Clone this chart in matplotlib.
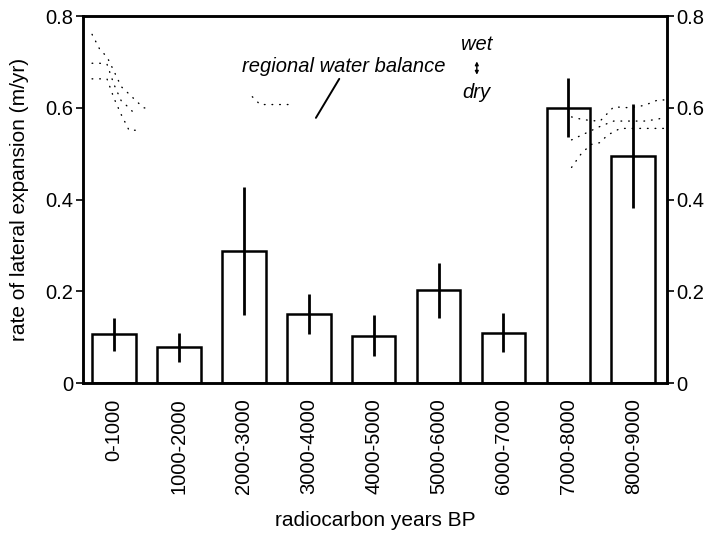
import numpy as np
import matplotlib
matplotlib.use("Agg")
import matplotlib.pyplot as plt

plt.rcParams['font.family'] = ['Liberation Sans', 'DejaVu Sans']

# ---- data ----
categories = ["0-1000", "1000-2000", "2000-3000", "3000-4000", "4000-5000",
              "5000-6000", "6000-7000", "7000-8000", "8000-9000"]
bar_centers_ky = [0.5, 1.5, 2.5, 3.5, 4.5, 5.5, 6.5, 7.5, 8.5]
rates = [0.106, 0.078, 0.288, 0.150, 0.103, 0.202, 0.110, 0.600, 0.495]
rate_err = [0.036, 0.032, 0.140, 0.043, 0.045, 0.060, 0.042, 0.064, 0.113]
y_ticks = [0, 0.2, 0.4, 0.6, 0.8]
y_tick_labels = ["0", "0.2", "0.4", "0.6", "0.8"]

# regional water balance (stippled band, visible fragments) in ky BP
wb_upper_x = [0.16, 0.28, 0.39, 0.50, 0.61, 0.73, 0.84, 0.95, 1.07, np.nan,
              2.63, 2.75, 2.90, 3.05, 3.18, np.nan,
              7.55, 7.7, 7.85, 7.99, 8.2, 8.44, 8.67, 8.88, 8.99]
wb_upper_y = [0.760, 0.727, 0.711, 0.679, 0.646, 0.630, 0.615, 0.600, 0.598, np.nan,
              0.624, 0.607, 0.607, 0.607, 0.607, np.nan,
              0.580, 0.575, 0.572, 0.571, 0.602, 0.600, 0.605, 0.617, 0.617]
wb_lower_x = [0.16, 0.28, 0.39, 0.50, 0.61, 0.73, 0.84, np.nan,
              7.55, 7.7, 7.85, 7.99, 8.1, 8.3, 8.44, 8.67, 8.88, 8.99]
wb_lower_y = [0.663, 0.663, 0.663, 0.620, 0.585, 0.551, 0.551, np.nan,
              0.470, 0.500, 0.520, 0.524, 0.540, 0.555, 0.555, 0.555, 0.555, 0.555]
wb_mid_x = [0.16, 0.28, 0.39, 0.50, 0.61, 0.73, 0.84, np.nan,
            7.55, 7.7, 7.85, 8.0, 8.2, 8.44, 8.67, 8.88, 8.99]
wb_mid_y = [0.697, 0.697, 0.695, 0.650, 0.615, 0.600, 0.583, np.nan,
            0.530, 0.540, 0.550, 0.560, 0.571, 0.571, 0.571, 0.575, 0.580]

FS = 14.5

fig = plt.figure(figsize=(7.05, 5.5), dpi=100)
ax = fig.add_axes([0.1177, 0.3036, 0.8283, 0.6673])

ax.bar(bar_centers_ky, rates, width=0.67, facecolor="white", edgecolor="black",
       linewidth=1.8, zorder=2)
ax.errorbar(bar_centers_ky, rates, yerr=rate_err, fmt="none", ecolor="black",
            elinewidth=2.0, capsize=0, zorder=3)

for xs, ys in [(wb_upper_x, wb_upper_y), (wb_lower_x, wb_lower_y), (wb_mid_x, wb_mid_y)]:
    ax.plot(xs, ys, linestyle=(0, (0.5, 5)), color="black", linewidth=1.0,
            dash_capstyle="round", zorder=4)

ax.set_xlim(0.02, 9.02)
ax.set_ylim(0, 0.8)
ax.set_xticks(bar_centers_ky)
ax.set_xticklabels(categories, rotation=90, fontsize=FS)
ax.tick_params(axis="x", length=0, pad=11)
ax.set_yticks(y_ticks)
ax.set_yticklabels(y_tick_labels, fontsize=FS)
ax.tick_params(axis="y", direction="out", length=5, width=1.2, pad=2)
for s in ax.spines.values():
    s.set_linewidth(1.8)

ax2 = ax.twinx()
ax2.set_ylim(0, 0.8)
ax2.set_yticks(y_ticks)
ax2.set_yticklabels(y_tick_labels, fontsize=FS)
ax2.tick_params(axis="y", direction="out", length=5, width=1.2, pad=2)
for s in ax2.spines.values():
    s.set_linewidth(1.8)

ax.set_ylabel("rate of lateral expansion (m/yr)", fontsize=15, labelpad=12)
ax.set_xlabel("radiocarbon years BP", fontsize=15, labelpad=12)

ax.text(2.47, 0.689, "regional water balance", fontsize=FS, style="italic",
        ha="left", va="center")
ax.annotate("", xy=(3.61, 0.578), xytext=(3.97, 0.663),
            arrowprops=dict(arrowstyle="-", color="black", lw=1.4,
                            shrinkA=0, shrinkB=0))
ax.text(6.09, 0.737, "wet", fontsize=FS, style="italic", ha="center", va="center")
ax.text(6.09, 0.634, "dry", fontsize=FS, style="italic", ha="center", va="center")
ax.annotate("", xy=(6.09, 0.701), xytext=(6.09, 0.672),
            arrowprops=dict(arrowstyle="<|-|>", color="black", lw=1.0,
                            mutation_scale=5, shrinkA=0, shrinkB=0))

fig.savefig("out.png", dpi=100)
